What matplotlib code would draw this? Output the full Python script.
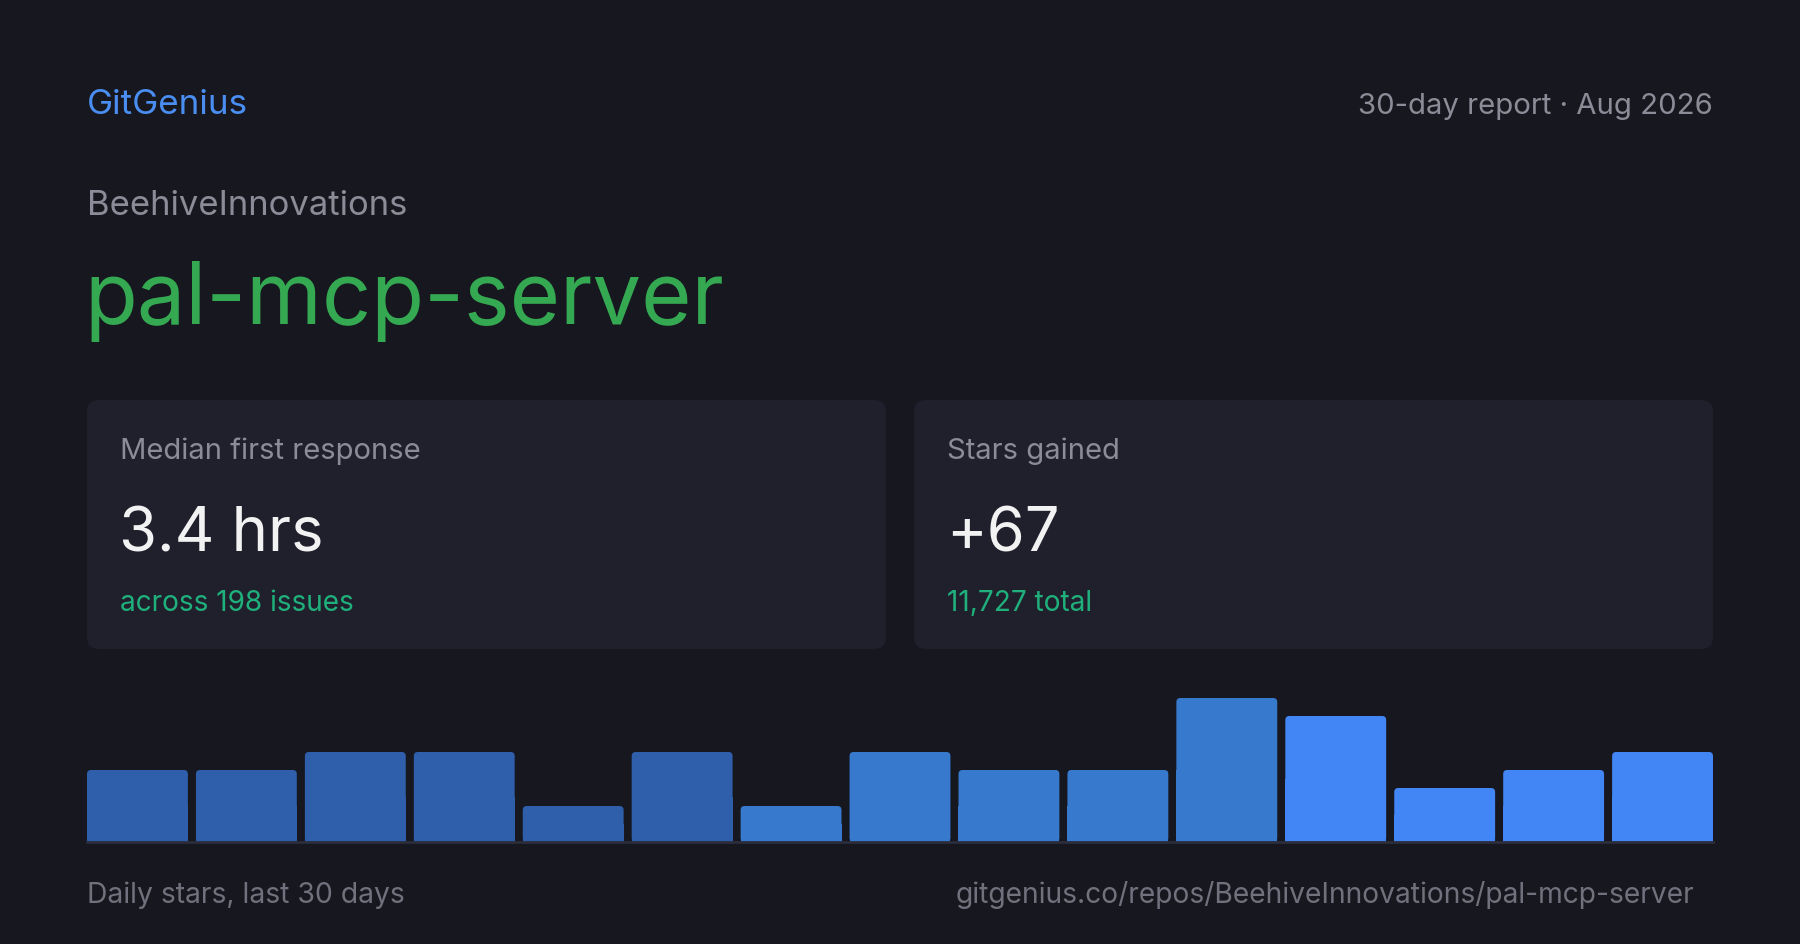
import matplotlib
matplotlib.use("Agg")
import matplotlib.pyplot as plt
from matplotlib.patches import FancyBboxPatch, Rectangle

# data
daily_stars = [4, 4, 5, 5, 2, 5, 2, 5, 4, 4, 8, 7, 3, 4, 5]
bar_colors = ["#2f5faa"] * 6 + ["#3779cd"] * 5 + ["#4285f5"] * 4
owner = "BeehiveInnovations"
repo = "pal-mcp-server"
median_response = "3.4 hrs"
issues_note = "across 198 issues"
stars_gained = "+67"
stars_total = "11,727 total"

BG = "#16171f"; CARD = "#1f202c"; GRAY = "#8b8c97"; DIM = "#70717c"
W, H = 1800, 945
plt.rcParams["font.family"] = ["Inter", "DejaVu Sans"]

fig = plt.figure(figsize=(W / 100, H / 100), dpi=100, facecolor=BG)
bg = fig.add_axes([0, 0, 1, 1]); bg.set_xlim(0, W); bg.set_ylim(H, 0); bg.axis("off")

def px(s): return s * 0.72  # px -> pt at dpi 100

bg.text(87, 114, "GitGenius", color="#4a8ef2", fontsize=px(35), va="baseline")
bg.text(1713, 114, "30-day report · Aug 2026", color=GRAY, fontsize=px(29.3), va="baseline", ha="right")
bg.text(87, 215, owner, color=GRAY, fontsize=px(34.6), va="baseline")
bg.text(84, 324, repo, color="#35a852", fontsize=px(86.5), va="baseline")

# stat cards
cards = [(87, "Median first response", median_response, issues_note),
         (914, "Stars gained", stars_gained, stars_total)]
for x0, label, big, note in cards:
    bg.add_patch(FancyBboxPatch((x0, 401), 799, 249, boxstyle="round,pad=0,rounding_size=12",
                                fc=CARD, ec="none"))
    bg.text(x0 + 33, 459, label, color=GRAY, fontsize=px(29.2), va="baseline")
    bg.text(x0 + 32, 552, big, color="#f2f2f2", fontsize=px(61.5), va="baseline")
    bg.text(x0 + 33, 611, note, color="#1fb07c", fontsize=px(28), va="baseline")

# daily stars bars
vmax = 8.45
ax = fig.add_axes([87 / W, 1 - 843 / H, 1626 / W, (vmax * 18) / H])
ax.set_facecolor("none"); ax.axis("off")
bw = 0.926
ax.set_xlim(-bw / 2, len(daily_stars) - 1 + bw / 2); ax.set_ylim(0, vmax)
bars = ax.bar(range(len(daily_stars)), daily_stars, bw, color=bar_colors)
# px per data unit in x and y, for round corners
xu = 1626 / (len(daily_stars) - 1 + bw); yu = 18
for b in bars:
    b.set_visible(False)
    x, w, h = b.get_x(), b.get_width(), b.get_height()
    r = 4 / xu
    ax.add_patch(FancyBboxPatch((x, 0), w, h, boxstyle=f"round,pad=0,rounding_size={r}",
                                mutation_aspect=xu / yu, fc=b.get_facecolor(), ec="none"))
    ax.add_patch(Rectangle((x, 0), w, h / 2, fc=b.get_facecolor(), ec="none"))
ax.axhline(0, color="#2c2d3b", lw=2, clip_on=False)

bg.text(87, 903, "Daily stars, last 30 days", color=DIM, fontsize=px(28.3), va="baseline")
bg.text(1694, 903, "gitgenius.co/repos/BeehiveInnovations/pal-mcp-server", color=DIM,
        fontsize=px(28.2), va="baseline", ha="right")

fig.savefig("out.png", dpi=100, facecolor=BG)
